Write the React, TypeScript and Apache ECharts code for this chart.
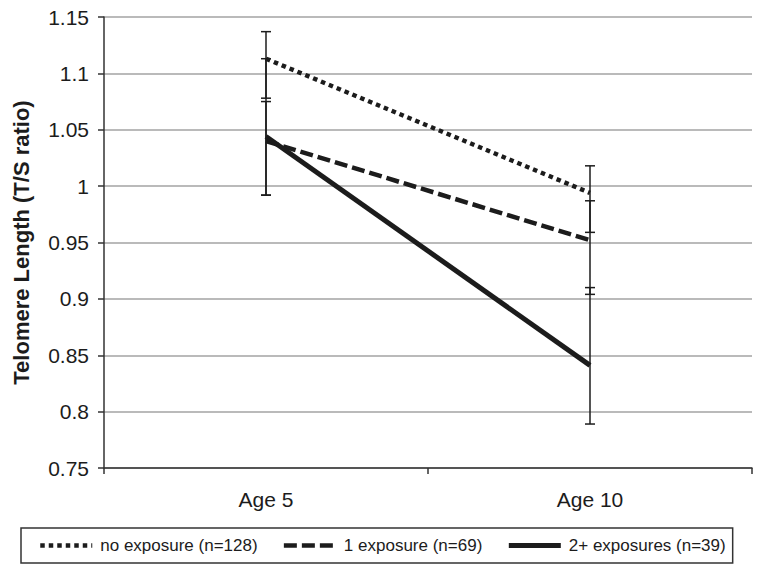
import React, { useEffect, useRef } from "react";
import * as echarts from "echarts";

const categories = ["Age 5", "Age 10"];

const seriesNames = ["no exposure (n=128)", "1 exposure (n=69)", "2+ exposures (n=39)"];

const noExposureMean = [1.113, 0.994];
const noExposureLow = [1.078, 0.959];
const noExposureHigh = [1.137, 1.018];

const oneExposureMean = [1.04, 0.952];
const oneExposureLow = [0.992, 0.904];
const oneExposureHigh = [1.075, 0.987];

const twoExposureMean = [1.044, 0.841];
const twoExposureLow = [0.992, 0.789];
const twoExposureHigh = [1.113, 0.91];

const yMin = 0.75;
const yMax = 1.15;
const yInterval = 0.05;

const INK = "#1c1c1c";
const FONT = "'Liberation Sans', Arial, Helvetica, sans-serif";

function errorData(low: number[], high: number[]) {
  return categories.map((_, i) => [i, low[i], high[i]]);
}

function errorRender(params: any, api: any) {
  const x = api.value(0);
  const lo = api.coord([x, api.value(1)]);
  const hi = api.coord([x, api.value(2)]);
  const hw = 5;
  const style = { stroke: INK, lineWidth: 1.5 };
  return {
    type: "group",
    children: [
      { type: "line", shape: { x1: lo[0], y1: lo[1], x2: hi[0], y2: hi[1] }, style },
      { type: "line", shape: { x1: lo[0] - hw, y1: lo[1], x2: lo[0] + hw, y2: lo[1] }, style },
      { type: "line", shape: { x1: hi[0] - hw, y1: hi[1], x2: hi[0] + hw, y2: hi[1] }, style },
    ],
  };
}

export default function App() {
  const ref = useRef<HTMLDivElement>(null);
  useEffect(() => {
    document.body.style.margin = "0";
    if (!ref.current) return;
    const chart = echarts.init(ref.current, undefined, { renderer: "svg" });
    const means = [noExposureMean, oneExposureMean, twoExposureMean];
    const lows = [noExposureLow, oneExposureLow, twoExposureLow];
    const highs = [noExposureHigh, oneExposureHigh, twoExposureHigh];
    const lineTypes: any[] = [[4.5, 4], [13, 5], "solid"];
    const lineWidths = [4.5, 4.5, 5];
    const lineSeries = seriesNames.map((name, i) => ({
      name,
      type: "line",
      data: means[i],
      symbol: "none",
      legendIcon: "none",
      z: 3,
      lineStyle: { color: INK, width: lineWidths[i], type: lineTypes[i], cap: "butt" },
      itemStyle: { color: INK },
    }));
    const errSeries = seriesNames.map((name, i) => ({
      name: name + " error",
      type: "custom",
      renderItem: errorRender,
      data: errorData(lows[i], highs[i]),
      z: 2,
      silent: true,
    }));
    chart.setOption({
      animation: false,
      textStyle: { fontFamily: FONT, color: INK },
      grid: { left: 104, right: 10, top: 17, bottom: 106, containLabel: false },
      legend: {
        data: seriesNames.map((name, i) => ({
          name,
          lineStyle: { width: lineWidths[i], type: lineTypes[i], color: INK },
        })),
        left: 21,
        top: 528,
        padding: [9, 7, 9, 17],
        borderColor: "#333",
        borderWidth: 1.5,
        borderRadius: 0,
        itemWidth: 52,
        itemHeight: 14,
        itemGap: 24,
        itemStyle: { opacity: 0, borderWidth: 0 },
        textStyle: { fontSize: 17, color: INK, fontFamily: FONT, padding: [0, 0, 0, 3] },
      },
      xAxis: {
        type: "category",
        data: categories,
        boundaryGap: true,
        axisLine: { lineStyle: { color: "#333", width: 1.5 } },
        axisTick: { show: true, inside: false, length: 6, lineStyle: { color: "#333", width: 1.5 } },
        axisLabel: { fontSize: 21, color: INK, margin: 21, fontFamily: FONT },
        splitLine: { show: false },
      },
      yAxis: {
        type: "value",
        min: yMin,
        max: yMax,
        interval: yInterval,
        name: "Telomere Length (T/S ratio)",
        nameLocation: "middle",
        nameGap: 72,
        nameTextStyle: { fontSize: 22, fontWeight: "bold", color: INK, fontFamily: FONT },
        axisLine: { show: true, lineStyle: { color: "#333", width: 1.5 } },
        axisTick: { show: true, inside: false, length: 6, lineStyle: { color: "#333", width: 1.5 } },
        axisLabel: {
          fontSize: 21,
          color: INK,
          margin: 15,
          fontFamily: FONT,
          formatter: (v: number) => String(Math.round(v * 100) / 100),
        },
        splitLine: { show: true, lineStyle: { color: "#a3a3a3", width: 1.5 } },
      },
      series: [...errSeries, ...lineSeries],
    });
    return () => chart.dispose();
  }, []);
  return <div ref={ref} style={{ width: 762, height: 574, position: "absolute", left: 0, top: 0 }} />;
}
